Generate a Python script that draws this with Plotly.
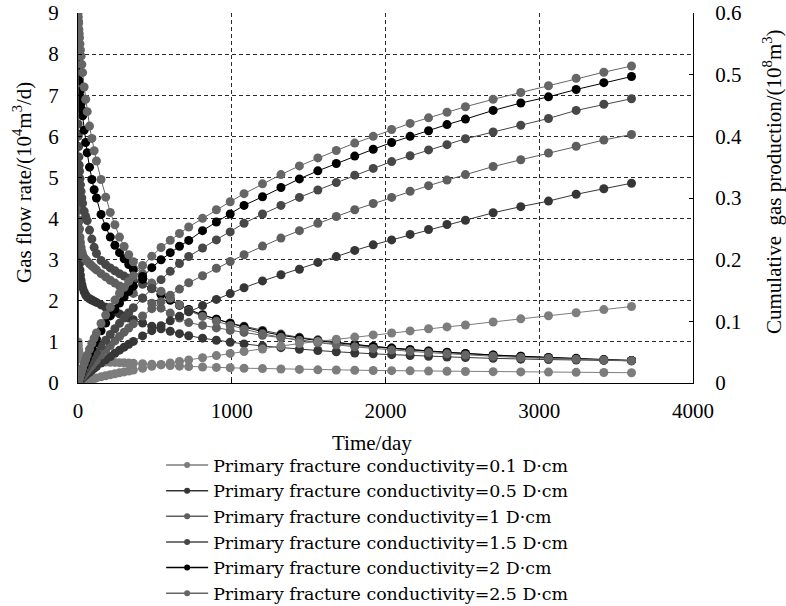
import plotly.graph_objects as go

# Production time (days)
time_day = [0, 1, 2, 4, 6, 8, 10, 13, 16, 20, 25, 30, 40, 50, 60, 75, 90, 105, 120, 150,
            180, 210, 240, 270, 300, 330, 360, 420, 480, 540, 600, 660, 720, 810, 900, 990,
            1080, 1200, 1320, 1440, 1560, 1680, 1800, 1920, 2040, 2160, 2280, 2400, 2520,
            2700, 2880, 3060, 3240, 3420, 3600]

conductivity = ["0.1", "0.5", "1", "1.5", "2", "2.5"]

# Gas flow rate, 10^4 m3/d
rate_01 = [0, 1.0, 0.92, 0.82, 0.75, 0.70, 0.67, 0.64, 0.62, 0.60, 0.58, 0.57, 0.56, 0.55, 0.545,
           0.54, 0.535, 0.53, 0.525, 0.52, 0.51, 0.505, 0.50, 0.495, 0.49, 0.485, 0.48, 0.47,
           0.455, 0.44, 0.425, 0.41, 0.40, 0.39, 0.38, 0.37, 0.36, 0.35, 0.34, 0.33, 0.32,
           0.315, 0.31, 0.305, 0.30, 0.295, 0.29, 0.285, 0.28, 0.275, 0.27, 0.265, 0.26, 0.255, 0.25]
rate_05 = [0, 3.9, 3.7, 3.4, 3.2, 3.0, 2.9, 2.75, 2.62, 2.5, 2.4, 2.32, 2.22, 2.14, 2.09, 2.05,
           2.02, 1.99, 1.96, 1.9, 1.84, 1.78, 1.73, 1.68, 1.63, 1.58, 1.54, 1.46, 1.38, 1.32,
           1.26, 1.2, 1.15, 1.09, 1.04, 0.99, 0.95, 0.9, 0.86, 0.82, 0.79, 0.76, 0.73, 0.71,
           0.69, 0.67, 0.65, 0.63, 0.62, 0.6, 0.58, 0.57, 0.56, 0.55, 0.54]
rate_1 = [0, 6.0, 5.3, 4.6, 4.2, 3.95, 3.75, 3.55, 3.42, 3.3, 3.2, 3.13, 3.05, 3.0, 2.96, 2.9,
          2.85, 2.8, 2.75, 2.66, 2.58, 2.5, 2.43, 2.36, 2.3, 2.24, 2.18, 2.06, 1.94, 1.82, 1.7,
          1.58, 1.47, 1.4, 1.34, 1.28, 1.23, 1.16, 1.1, 1.04, 0.99, 0.95, 0.91, 0.87, 0.84, 0.8,
          0.77, 0.74, 0.71, 0.68, 0.65, 0.62, 0.59, 0.57, 0.55]
rate_15 = [0, 6.3, 6.05, 5.75, 5.5, 5.3, 5.15, 4.97, 4.82, 4.66, 4.5, 4.37, 4.18, 4.05, 3.95,
           3.72, 3.5, 3.3, 3.15, 2.98, 2.88, 2.8, 2.73, 2.66, 2.6, 2.55, 2.5, 2.4, 2.29, 2.17,
           2.04, 1.9, 1.76, 1.65, 1.55, 1.46, 1.38, 1.28, 1.19, 1.11, 1.05, 0.99, 0.94, 0.89,
           0.85, 0.81, 0.77, 0.74, 0.71, 0.67, 0.64, 0.61, 0.58, 0.56, 0.54]
rate_2 = [0, 8.8, 8.5, 8.1, 7.8, 7.55, 7.35, 7.1, 6.95, 6.8, 6.65, 6.5, 6.15, 5.85, 5.6, 5.25,
          4.95, 4.7, 4.5, 4.1, 3.8, 3.55, 3.35, 3.17, 3.02, 2.88, 2.76, 2.52, 2.32, 2.15, 2.01,
          1.89, 1.79, 1.66, 1.55, 1.45, 1.36, 1.25, 1.16, 1.09, 1.03, 0.98, 0.93, 0.89, 0.85,
          0.81, 0.78, 0.75, 0.72, 0.68, 0.65, 0.62, 0.6, 0.57, 0.55]
rate_25 = [0, 9.0, 8.9, 8.75, 8.6, 8.5, 8.4, 8.25, 8.1, 7.95, 7.75, 7.55, 7.2, 6.9, 6.6, 6.25,
           5.95, 5.65, 5.4, 4.95, 4.52, 4.15, 3.85, 3.55, 3.32, 3.12, 2.95, 2.66, 2.43, 2.23, 2.06,
           1.9, 1.76, 1.62, 1.5, 1.4, 1.31, 1.2, 1.11, 1.04, 0.98, 0.93, 0.88, 0.84, 0.8, 0.77,
           0.74, 0.71, 0.68, 0.65, 0.62, 0.6, 0.58, 0.56, 0.54]

# Cumulative gas production, 10^8 m3
cum_01 = [0, 0.0001, 0.0002, 0.0004, 0.0006, 0.0008, 0.0009, 0.0012, 0.0014, 0.0017, 0.0021,
          0.0025, 0.0031, 0.0038, 0.0045, 0.0055, 0.0064, 0.0073, 0.0082, 0.0100, 0.0117,
          0.0133, 0.0150, 0.0165, 0.0180, 0.0195, 0.0210, 0.0240, 0.0270, 0.0300, 0.0325,
          0.0350, 0.0375, 0.0410, 0.0445, 0.0480, 0.0510, 0.0550, 0.0600, 0.0640, 0.0675,
          0.0710, 0.0745, 0.0780, 0.0810, 0.0845, 0.0880, 0.0910, 0.0940, 0.0990, 0.1040,
          0.1090, 0.1140, 0.1190, 0.1240]
cum_05 = [0, 0.0002, 0.0006, 0.0013, 0.0019, 0.0026, 0.0032, 0.0040, 0.0048, 0.0058, 0.0071,
          0.0082, 0.0105, 0.0127, 0.0148, 0.0179, 0.0209, 0.0238, 0.0267, 0.0323, 0.0377,
          0.0430, 0.0482, 0.0532, 0.0581, 0.0628, 0.0675, 0.0764, 0.0849, 0.0930, 0.1008,
          0.1082, 0.1155, 0.1255, 0.1355, 0.1450, 0.1545, 0.1655, 0.1755, 0.1845, 0.1955,
          0.2050, 0.2150, 0.2240, 0.2320, 0.2410, 0.2490, 0.2570, 0.2640, 0.2760, 0.2860,
          0.2950, 0.3060, 0.3150, 0.3240]
cum_1 = [0, 0.0003, 0.0009, 0.0019, 0.0027, 0.0036, 0.0043, 0.0054, 0.0065, 0.0078, 0.0094,
         0.0110, 0.0141, 0.0171, 0.0201, 0.0245, 0.0288, 0.0331, 0.0372, 0.0453, 0.0532,
         0.0608, 0.0682, 0.0754, 0.0824, 0.0892, 0.0959, 0.1086, 0.1206, 0.1319, 0.1424,
         0.1523, 0.1625, 0.1740, 0.1860, 0.1970, 0.2080, 0.2220, 0.2350, 0.2470, 0.2590,
         0.2700, 0.2810, 0.2910, 0.3010, 0.3110, 0.3200, 0.3290, 0.3380, 0.3510, 0.3620,
         0.3730, 0.3840, 0.3940, 0.4030]
cum_15 = [0, 0.0003, 0.0010, 0.0022, 0.0033, 0.0044, 0.0055, 0.0070, 0.0084, 0.0103, 0.0126,
          0.0148, 0.0192, 0.0234, 0.0275, 0.0333, 0.0389, 0.0443, 0.0496, 0.0597, 0.0694,
          0.0788, 0.0879, 0.0968, 0.1054, 0.1139, 0.1221, 0.1380, 0.1532, 0.1676, 0.1811,
          0.1937, 0.2051, 0.2190, 0.2320, 0.2450, 0.2590, 0.2740, 0.2880, 0.3010, 0.3130,
          0.3250, 0.3370, 0.3480, 0.3590, 0.3685, 0.3780, 0.3865, 0.3960, 0.4070, 0.4180,
          0.4290, 0.4420, 0.4520, 0.4610]
cum_2 = [0, 0.0004, 0.0013, 0.0030, 0.0046, 0.0062, 0.0077, 0.0099, 0.0120, 0.0148, 0.0182,
         0.0216, 0.0280, 0.0342, 0.0401, 0.0485, 0.0565, 0.0640, 0.0712, 0.0848, 0.0972,
         0.1088, 0.1196, 0.1298, 0.1394, 0.1485, 0.1570, 0.1728, 0.1870, 0.1998, 0.2114,
         0.2218, 0.2312, 0.2470, 0.2610, 0.2740, 0.2880, 0.3020, 0.3170, 0.3310, 0.3440,
         0.3560, 0.3680, 0.3790, 0.3900, 0.4000, 0.4090, 0.4190, 0.4280, 0.4420, 0.4540,
         0.4640, 0.4760, 0.4870, 0.4970]
cum_25 = [0, 0.0005, 0.0013, 0.0031, 0.0048, 0.0066, 0.0082, 0.0107, 0.0132, 0.0164, 0.0203,
          0.0242, 0.0315, 0.0386, 0.0453, 0.0550, 0.0641, 0.0728, 0.0811, 0.0964, 0.1103,
          0.1229, 0.1344, 0.1451, 0.1552, 0.1647, 0.1737, 0.1905, 0.2057, 0.2197, 0.2315,
          0.2425, 0.2530, 0.2670, 0.2810, 0.2940, 0.3070, 0.3230, 0.3380, 0.3520, 0.3650,
          0.3770, 0.3890, 0.4000, 0.4110, 0.4210, 0.4300, 0.4390, 0.4480, 0.4600, 0.4710,
          0.4820, 0.4940, 0.5040, 0.5140]

x_ticks = [0, 1000, 2000, 3000, 4000]

rates = [rate_01, rate_05, rate_1, rate_15, rate_2, rate_25]
cums = [cum_01, cum_05, cum_1, cum_15, cum_2, cum_25]
colors = ["#7d7d7d", "#363636", "#5e5e5e", "#474747", "#000000", "#666666"]

FONT = "Liberation Serif, Times New Roman, serif"
LEGEND_FONT = "DejaVu Serif, Liberation Serif, serif"

fig = go.Figure()

for k, c in enumerate(conductivity):
    style = dict(mode="lines+markers",
                 line=dict(color=colors[k], width=1),
                 marker=dict(color=colors[k], size=9, line=dict(width=0)),
                 showlegend=False)
    fig.add_trace(go.Scatter(x=time_day, y=rates[k], yaxis="y", **style))
    fig.add_trace(go.Scatter(x=time_day, y=cums[k], yaxis="y2", **style))

# legend entries
for k, c in enumerate(conductivity):
    fig.add_trace(go.Scatter(
        x=[None], y=[None], mode="lines+markers",
        name=f"Primary fracture conductivity={c} D·cm",
        line=dict(color=colors[k], width=1.5),
        marker=dict(color=colors[k], size=6, line=dict(width=0)),
    ))

grid = dict(showgrid=True, gridcolor="#2a2a2a", gridwidth=1, griddash="4px,3px")
axis_common = dict(showline=True, linecolor="black", linewidth=1.2, ticks="inside",
                   ticklen=4, tickcolor="black", zeroline=False,
                   tickfont=dict(family=FONT, size=21, color="black"))

fig.update_layout(
    width=786, height=606, autosize=False,
    margin=dict(l=78, r=93, t=13, b=223, autoexpand=False),
    paper_bgcolor="white", plot_bgcolor="white",
    font=dict(family=FONT, size=21, color="black"),
    xaxis=dict(range=[0, 4000], tickvals=x_ticks, tickangle=0, ticklabelstandoff=9,
               **grid, **axis_common),
    yaxis=dict(range=[0, 9], dtick=1, ticklabelstandoff=14, **grid, **axis_common),
    yaxis2=dict(range=[0, 0.6], dtick=0.1, overlaying="y", side="right",
                ticklabelstandoff=17, showgrid=False, **axis_common),
    legend=dict(xref="container", yref="container", x=0.205, y=0.262,
                xanchor="left", yanchor="top", bgcolor="rgba(0,0,0,0)",
                font=dict(family=LEGEND_FONT, size=17.4, color="black"),
                itemwidth=42, tracegroupgap=0),
    annotations=[
        dict(text="Gas flow rate/(10<sup>4</sup>m<sup>3</sup>/d)", xref="paper", yref="paper",
             x=(22 - 78) / 615, y=(383 - 183) / 370, textangle=-90, showarrow=False,
             xanchor="center", yanchor="middle", font=dict(family=FONT, size=21)),
        dict(text="Cumulative\u00a0 gas production/(10<sup>8</sup>m<sup>3</sup>)",
             xref="paper", yref="paper",
             x=(772 - 78) / 615, y=(383 - 182) / 370, textangle=-90, showarrow=False,
             xanchor="center", yanchor="middle", font=dict(family=FONT, size=21)),
        dict(text="Time/day", xref="paper", yref="paper",
             x=(372 - 78) / 615, y=(383 - 443) / 370, showarrow=False,
             xanchor="center", yanchor="middle", font=dict(family=FONT, size=21)),
    ],
)

fig.write_html("out.html")
